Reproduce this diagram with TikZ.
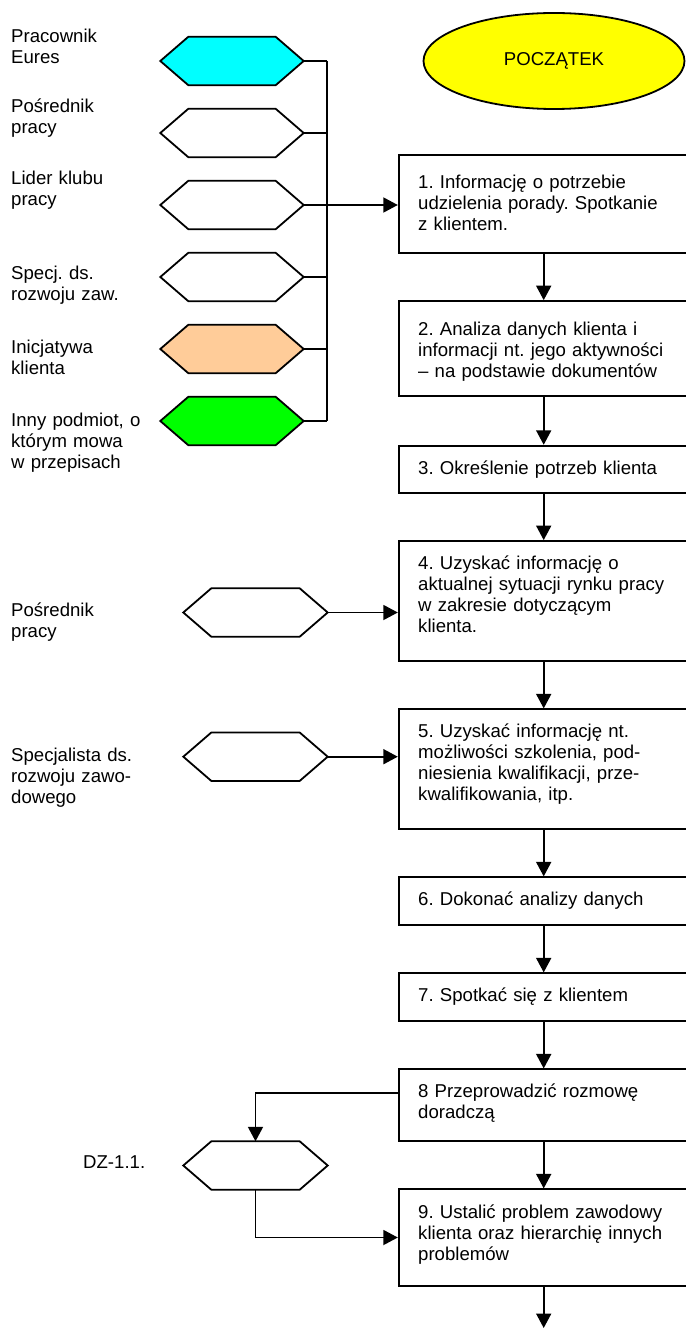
\documentclass[tikz,border=0pt]{standalone}
\usepackage{fontspec}
\setmainfont{Liberation Sans}
\usetikzlibrary{arrows.meta,shapes.geometric}
\frenchspacing

\definecolor{hexcyan}{HTML}{00FFFF}
\definecolor{hexpeach}{HTML}{FFCC99}
\definecolor{hexgreen}{HTML}{00FF00}
\definecolor{startyellow}{HTML}{FFFF00}

\tikzset{
  lw/.style={line width=1.8pt},
  hexframe/.style={rectangle, inner sep=0pt, minimum height=48pt},
  stepbox/.style={lw, draw, rectangle, inner sep=0pt, minimum width=290pt},
  steptext/.style={anchor=base west, inner sep=0pt, text width=268pt, align=left},
  sidelabel/.style={anchor=base west, inner sep=0pt, text width=150pt, align=left},
  conn/.style={lw},
  flow/.style={lw, -{Triangle[length=14.5pt,width=15pt]}},
}

% hexagon: name, centre, width, fill colour
\newcommand\hexnode[4]{%
  \node[hexframe, minimum width=#3] (#1) at #2 {};
  \draw[lw, fill=#4, line join=miter]
    (#1.west) -- ([xshift=28pt]#1.north west) -- ([xshift=-28pt]#1.north east)
    -- (#1.east) -- ([xshift=-28pt]#1.south east) -- ([xshift=28pt]#1.south west) -- cycle;
}

\begin{document}
\begin{tikzpicture}[x=1pt, y=-1pt, font=\fontsize{18.6}{21}\selectfont]
\useasboundingbox (0,0) rectangle (685,1329);

% start
\node[ellipse, lw, draw, fill=startyellow, inner sep=0pt,
      minimum width=261pt, minimum height=96pt] (start) at (554,61) {POCZĄTEK};

% initiators
\hexnode{h1}{(232,61)}{143pt}{hexcyan}
\hexnode{h2}{(232,133)}{143pt}{white}
\hexnode{h3}{(232,205)}{143pt}{white}
\hexnode{h4}{(232,277)}{143pt}{white}
\hexnode{h5}{(232,349)}{143pt}{hexpeach}
\hexnode{h6}{(232,421)}{143pt}{hexgreen}

\node[sidelabel] (l1) at (11,42.5) {Pracownik\\Eures};
\node[sidelabel] (l2) at (11,112.5) {Pośrednik\\pracy};
\node[sidelabel] (l3) at (11,184.8) {Lider klubu\\pracy};
\node[sidelabel] (l4) at (11,279.2) {Specj. ds.\\rozwoju zaw.};
\node[sidelabel] (l5) at (11,353.8) {Inicjatywa\\klienta};
\node[sidelabel] (l6) at (11,426.5) {Inny podmiot, o\\którym mowa\\w przepisach};

% steps
\node[stepbox, minimum height=98.3pt] (b1) at (543.7,204.2) {};
\node[stepbox, minimum height=94.7pt] (b2) at (543.7,348.4) {};
\node[stepbox, minimum height=47.6pt] (b3) at (543.7,469.5) {};
\node[stepbox, minimum height=120pt]  (b4) at (543.7,601) {};
\node[stepbox, minimum height=120pt]  (b5) at (543.7,769.3) {};
\node[stepbox, minimum height=48pt]   (b6) at (543.7,901.3) {};
\node[stepbox, minimum height=48pt]   (b7) at (543.7,997.3) {};
\node[stepbox, minimum height=71.7pt] (b8) at (543.7,1105.2) {};
\node[stepbox, minimum height=96.4pt] (b9) at (543.7,1237.5) {};

\node[steptext] (t1) at (418,188.2) {1. Informację o potrzebie\\udzielenia porady. Spotkanie\\z klientem.};
\node[steptext] (t2) at (418,335.8) {2. Analiza danych klienta i\\informacji nt. jego aktywności\\– na podstawie dokumentów};
\node[steptext] (t3) at (418,474.2) {3. Określenie potrzeb klienta};
\node[steptext] (t4) at (418,569.8) {4. Uzyskać informację o\\aktualnej sytuacji rynku pracy\\w zakresie dotyczącym\\klienta.};
\node[steptext] (t5) at (418,737.2) {5. Uzyskać informację nt.\\możliwości szkolenia, pod-\\niesienia kwalifikacji, prze-\\kwalifikowania, itp.};
\node[steptext] (t6) at (418,905.8) {6. Dokonać analizy danych};
\node[steptext] (t7) at (418,1001.2) {7. Spotkać się z klientem};
\node[steptext] (t8) at (418,1097.2) {8 Przeprowadzić rozmowę\\doradczą};
\node[steptext] (t9) at (418,1218.8) {9. Ustalić problem zawodowy\\klienta oraz hierarchię innych\\problemów};

% side inputs lower down
\hexnode{p1}{(255.5,612.5)}{144pt}{white}
\hexnode{p2}{(255.5,756.7)}{144pt}{white}
\hexnode{dz}{(255.5,1165.5)}{144pt}{white}

\node[sidelabel] (l7) at (11,616.5) {Pośrednik\\pracy};
\node[sidelabel] (l8) at (11,761.5) {Specjalista ds.\\rozwoju zawo-\\dowego};
\node[anchor=base west, inner sep=0pt] (l9) at (83,1168.2) {DZ-1.1.};

% collecting bus of the initiators
\coordinate (busT) at (327,61);
\coordinate (busB) at (327,421);
\draw[conn] (busT) -- (busB);
\foreach \h in {h1,h2,h4,h5,h6} \draw[conn] (\h.east) -- (\h.east -| busT);
\draw[flow] (h3.east) -- (h3.east -| b1.west);

% main flow
\draw[flow] (b1.south) -- (b2.north);
\draw[flow] (b2.south) -- (b3.north);
\draw[flow] (b3.south) -- (b4.north);
\draw[flow] (b4.south) -- (b5.north);
\draw[flow] (b5.south) -- (b6.north);
\draw[flow] (b6.south) -- (b7.north);
\draw[flow] (b7.south) -- (b8.north);
\draw[flow] (b8.south) -- (b9.north);
\coordinate (next) at (543.7,1328);
\draw[flow] (b9.south) -- (next);

% inputs
\draw[flow] (p1.east) -- (p1.east -| b4.west);
\draw[flow] (p2.east) -- (p2.east -| b5.west);
\draw[flow] ([yshift=11.9pt]b8.west) -| (dz.north);
\draw[flow] (dz.south) |- (b9.west);
\end{tikzpicture}
\end{document}
